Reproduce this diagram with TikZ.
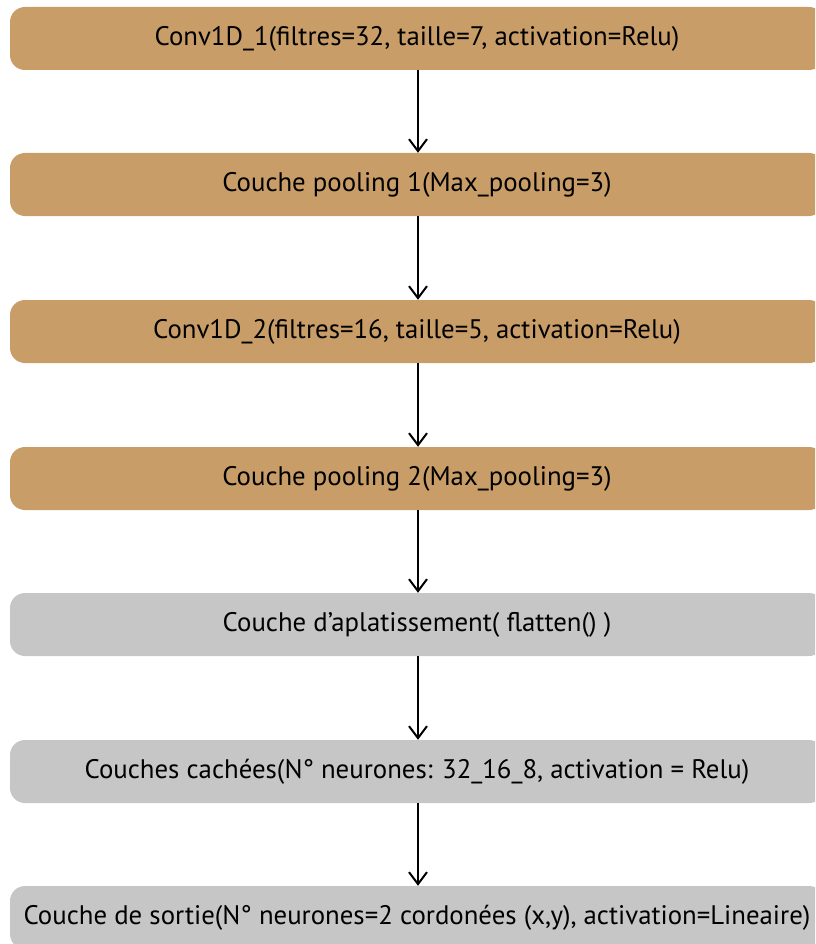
\documentclass[tikz,border=0pt]{standalone}
\usepackage{fontspec}
\setmainfont{PT Sans}
\usetikzlibrary{arrows.meta}
\definecolor{tanfill}{HTML}{C89D68}
\definecolor{greyfill}{HTML}{C6C6C6}
\begin{document}
\begin{tikzpicture}[x=1pt,y=1pt,
  layer/.style={rounded corners=15pt, minimum width=814pt, minimum height=63pt,
    inner sep=0pt, font=\fontsize{26.8}{30}\selectfont, text=black},
  conv/.style={layer, fill=tanfill},
  dense/.style={layer, fill=greyfill},
  flow/.style={line width=2pt, -{Straight Barb[length=12pt,width=18pt,line width=2pt]}}]
\useasboundingbox (0,0) rectangle (815,-944);
\clip (0,0) rectangle (815,-944);
\node[conv]  (c1) at (417,-38.5)  {Conv1D\_1(filtres=32, taille=7, activation=Relu)};
\node[conv]  (p1) at (417,-184.5) {Couche pooling 1(Max\_pooling=3)};
\node[conv]  (c2) at (417,-331.5) {Conv1D\_2(filtres=16, taille=5, activation=Relu)};
\node[conv]  (p2) at (417,-478.5) {Couche pooling 2(Max\_pooling=3)};
\node[dense] (fl) at (417,-624.5) {Couche d’aplatissement( flatten() )};
\node[dense] (hd) at (417,-771.5) {Couches cachées(N° neurones: 32\_16\_8, activation = Relu)};
\node[dense] (out) at (417,-917.5) {Couche de sortie(N° neurones=2 cordonées (x,y), activation=Lineaire)};
\foreach \a/\b in {c1/p1, p1/c2, c2/p2, p2/fl, fl/hd, hd/out}
  \draw[flow] (\a.south -| 418,0) -- (\b.north -| 418,0);
\end{tikzpicture}
\end{document}
